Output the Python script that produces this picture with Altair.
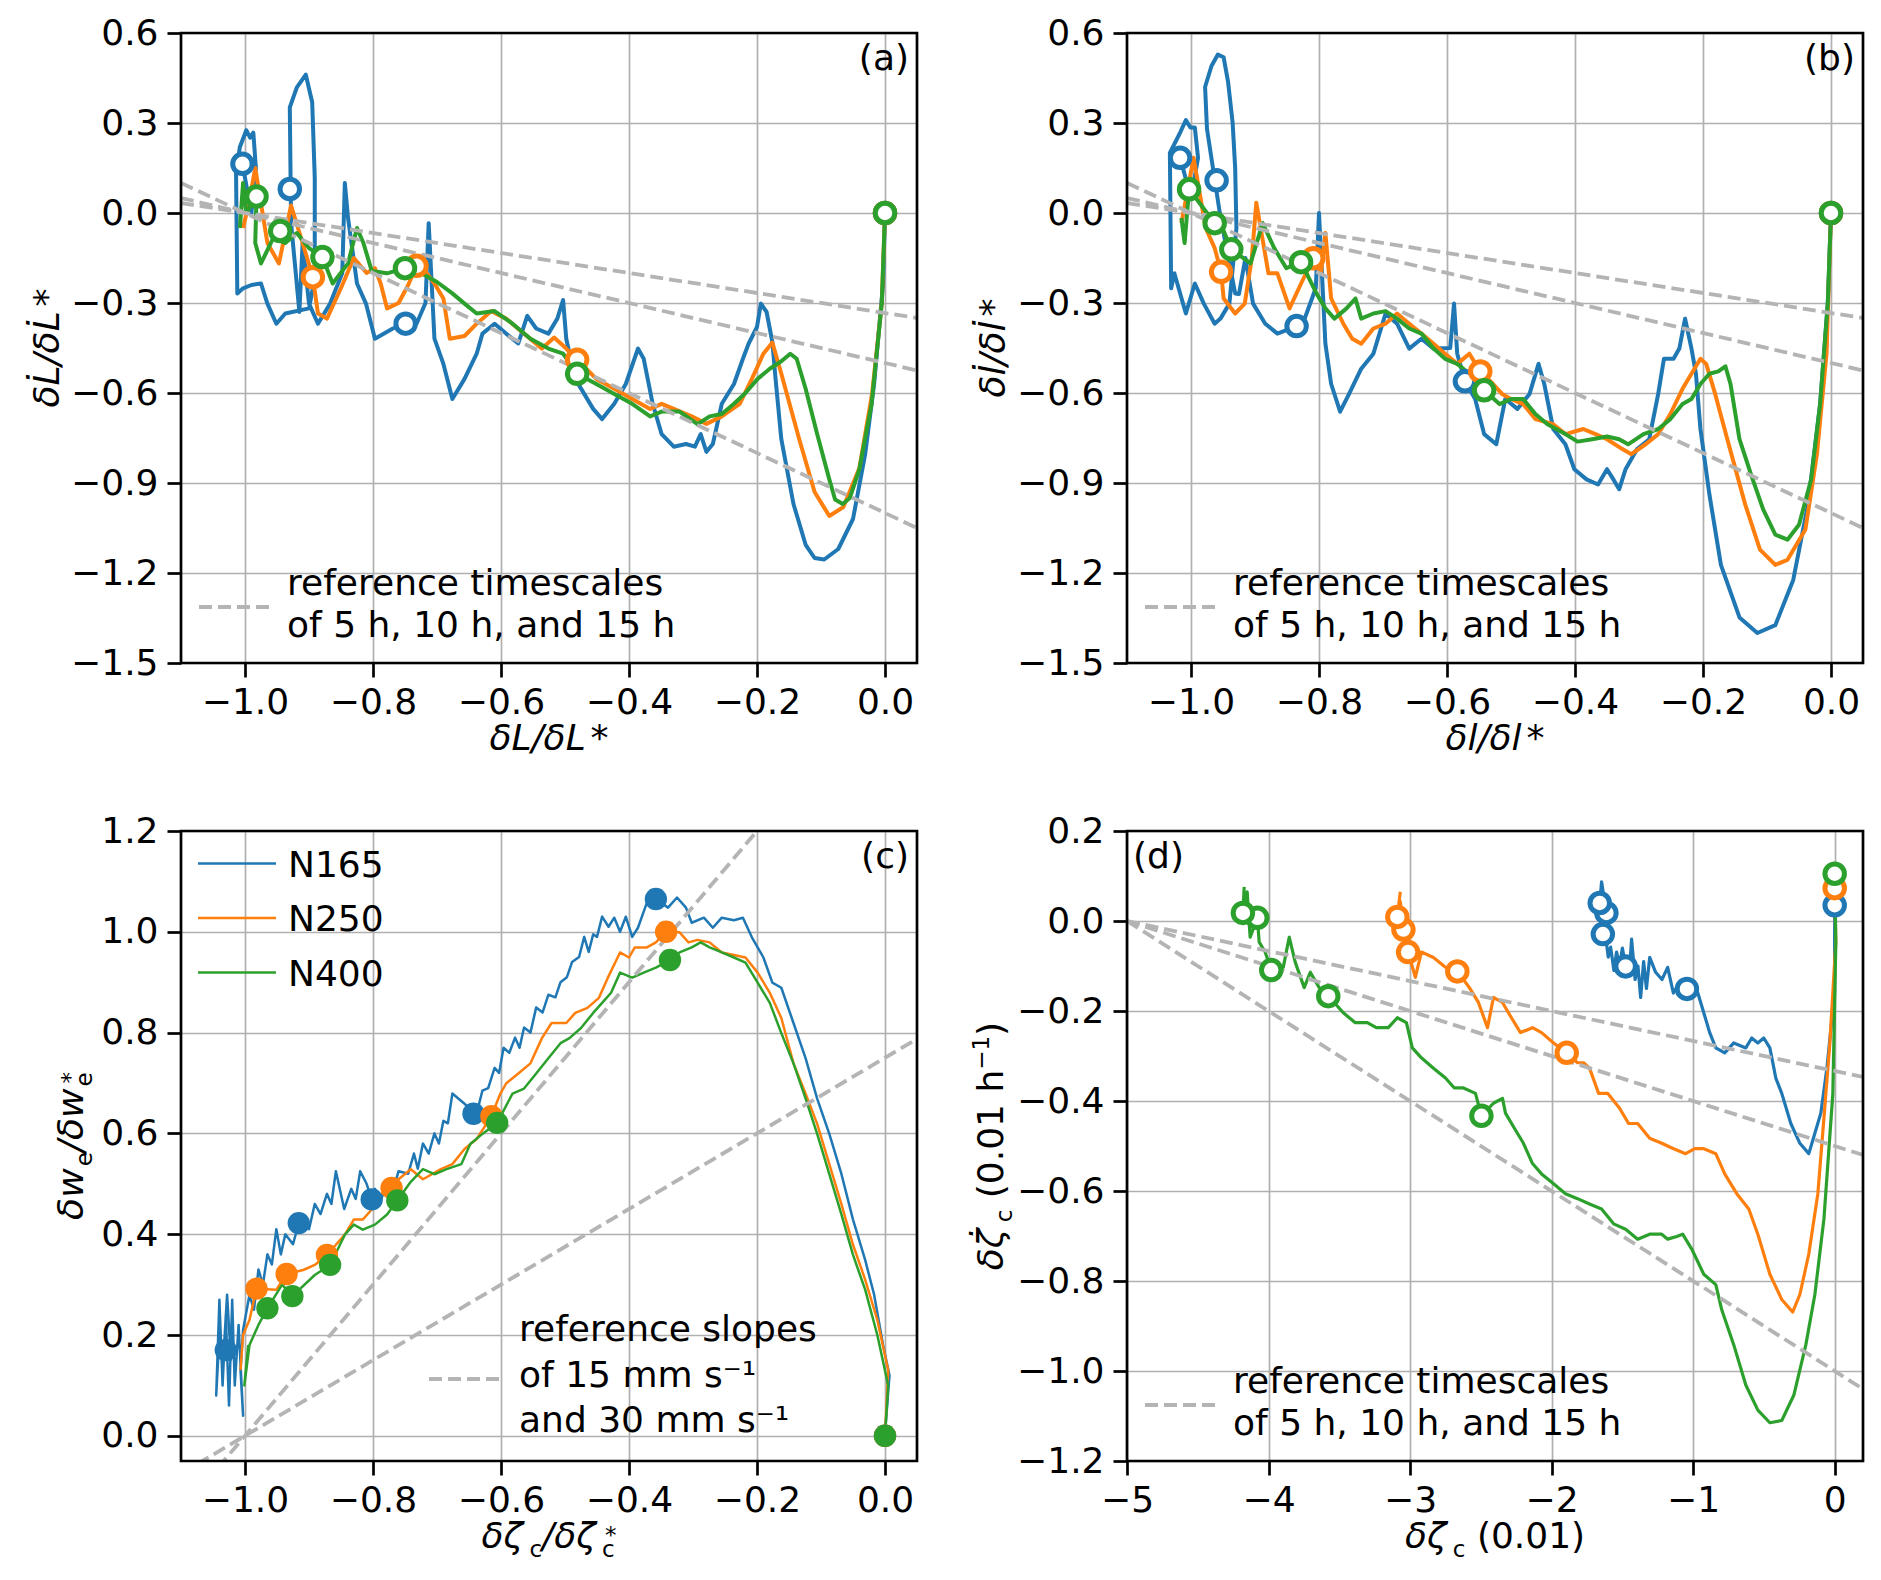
import altair as alt
import pandas as pd

FONT = "DejaVu Sans"
FS = 36
W, H = 736, 630
SERIES = ["N165", "N250", "N400"]
COLORS = ["#1f77b4", "#ff7f0e", "#2ca02c"]
GRAY = "#b4b4b4"

# ---------------- panel (a) ----------------
A_N165_X = [0.0, -0.003, -0.017, -0.031, -0.05, -0.073, -0.095, -0.11, -0.124, -0.143, -0.162, -0.171, -0.176, -0.185, -0.194, -0.2, -0.213, -0.222, -0.236, -0.255, -0.269, -0.279, -0.288, -0.297, -0.311, -0.33, -0.349, -0.363, -0.377, -0.386, -0.405, -0.423, -0.442, -0.456, -0.47, -0.484, -0.498, -0.503, -0.512, -0.526, -0.545, -0.559, -0.573, -0.592, -0.61, -0.629, -0.638, -0.657, -0.676, -0.69, -0.704, -0.713, -0.718, -0.732, -0.749, -0.769, -0.797, -0.811, -0.825, -0.839, -0.844, -0.848, -0.867, -0.886, -0.9, -0.91, -0.915, -0.928, -0.93, -0.919, -0.905, -0.895, -0.891, -0.891, -0.9, -0.937, -0.951, -0.965, -0.975, -0.99, -1.003, -1.012, -1.014, -1.008, -0.998, -0.992, -0.987, -0.983, -0.99, -1.004]
A_N165_Y = [0.0, -0.235, -0.57, -0.804, -1.02, -1.12, -1.155, -1.15, -1.106, -0.97, -0.754, -0.553, -0.43, -0.33, -0.302, -0.38, -0.435, -0.486, -0.57, -0.636, -0.77, -0.796, -0.737, -0.779, -0.77, -0.779, -0.737, -0.636, -0.486, -0.452, -0.57, -0.636, -0.687, -0.653, -0.603, -0.553, -0.42, -0.29, -0.352, -0.402, -0.385, -0.343, -0.435, -0.402, -0.369, -0.402, -0.469, -0.553, -0.62, -0.503, -0.419, -0.034, -0.3, -0.369, -0.369, -0.385, -0.419, -0.302, -0.235, -0.017, 0.1, -0.2, -0.302, -0.369, -0.302, -0.1, -0.33, -0.034, 0.352, 0.419, 0.461, 0.369, 0.117, -0.218, -0.318, -0.335, -0.369, -0.302, -0.235, -0.24, -0.251, -0.268, 0.134, 0.22, 0.276, 0.251, 0.268, 0.15, 0.0, 0.164]
A_N250_X = [0.0, -0.005, -0.02, -0.04, -0.065, -0.087, -0.11, -0.134, -0.162, -0.176, -0.19, -0.208, -0.227, -0.255, -0.279, -0.302, -0.33, -0.349, -0.367, -0.395, -0.423, -0.451, -0.481, -0.498, -0.517, -0.536, -0.564, -0.592, -0.615, -0.638, -0.657, -0.68, -0.69, -0.704, -0.72, -0.732, -0.745, -0.76, -0.778, -0.788, -0.797, -0.81, -0.83, -0.85, -0.872, -0.886, -0.894, -0.91, -0.928, -0.947, -0.965, -0.984, -0.994, -1.003]
A_N250_Y = [0.0, -0.3, -0.6, -0.85, -0.98, -1.01, -0.93, -0.754, -0.536, -0.432, -0.469, -0.553, -0.636, -0.678, -0.703, -0.678, -0.653, -0.636, -0.653, -0.62, -0.586, -0.553, -0.489, -0.452, -0.415, -0.452, -0.402, -0.352, -0.327, -0.369, -0.41, -0.419, -0.285, -0.235, -0.19, -0.176, -0.24, -0.3, -0.318, -0.235, -0.184, -0.2, -0.15, -0.25, -0.352, -0.335, -0.214, -0.1, 0.025, -0.168, -0.1, 0.15, 0.033, -0.05]
A_N400_X = [0.0, -0.005, -0.021, -0.04, -0.055, -0.066, -0.078, -0.087, -0.106, -0.124, -0.138, -0.148, -0.162, -0.18, -0.199, -0.218, -0.236, -0.255, -0.274, -0.293, -0.321, -0.349, -0.367, -0.395, -0.423, -0.451, -0.481, -0.503, -0.526, -0.554, -0.582, -0.61, -0.638, -0.657, -0.676, -0.7, -0.725, -0.75, -0.778, -0.802, -0.815, -0.825, -0.839, -0.863, -0.879, -0.9, -0.919, -0.937, -0.956, -0.975, -0.984, -0.982, -0.998, -1.003, -1.008]
A_N400_Y = [0.0, -0.3, -0.637, -0.854, -0.95, -0.97, -0.955, -0.888, -0.737, -0.586, -0.486, -0.469, -0.494, -0.519, -0.553, -0.6, -0.636, -0.67, -0.678, -0.704, -0.662, -0.662, -0.678, -0.636, -0.603, -0.57, -0.536, -0.469, -0.452, -0.419, -0.369, -0.327, -0.335, -0.302, -0.268, -0.23, -0.2, -0.184, -0.201, -0.193, -0.1, -0.05, -0.168, -0.235, -0.147, -0.117, -0.067, -0.1, -0.084, -0.168, -0.1, 0.055, 0.0, 0.1, -0.05]
A_N165_MX = [0.0, -0.749, -0.93, -1.004]
A_N165_MY = [0.0, -0.369, 0.08, 0.164]
A_N250_MX = [0.0, -0.481, -0.732, -0.894]
A_N250_MY = [0.0, -0.489, -0.176, -0.214]
A_N400_MX = [0.0, -0.481, -0.75, -0.879, -0.945, -0.982]
A_N400_MY = [0.0, -0.536, -0.184, -0.147, -0.06, 0.055]

# ---------------- panel (b) ----------------
B_N165_X = [0.0, -0.005, -0.017, -0.036, -0.059, -0.087, -0.115, -0.143, -0.172, -0.19, -0.204, -0.211, -0.218, -0.228, -0.237, -0.246, -0.261, -0.27, -0.284, -0.303, -0.321, -0.331, -0.34, -0.35, -0.364, -0.382, -0.401, -0.415, -0.434, -0.448, -0.457, -0.471, -0.49, -0.509, -0.523, -0.542, -0.556, -0.572, -0.584, -0.589, -0.595, -0.621, -0.64, -0.659, -0.678, -0.696, -0.715, -0.734, -0.753, -0.767, -0.781, -0.79, -0.8, -0.805, -0.828, -0.835, -0.865, -0.884, -0.903, -0.915, -0.925, -0.931,
            -0.955, -0.975, -0.978, -0.968, -0.958, -0.949, -0.942, -0.935, -0.931, -0.929, -0.94, -0.954, -0.963, -0.98, -0.994, -1.008, -1.026, -1.031, -1.033, -1.017, -1.008, -1.001, -0.994, -0.989, -1.0, -1.017]
B_N165_Y = [0.0, -0.3, -0.637, -0.972, -1.223, -1.374, -1.4, -1.348, -1.173, -0.938, -0.72, -0.536, -0.452, -0.352, -0.452, -0.486, -0.486, -0.603, -0.754, -0.787, -0.854, -0.921, -0.888, -0.854, -0.905, -0.888, -0.854, -0.771, -0.72, -0.57, -0.503, -0.603, -0.653, -0.62, -0.771, -0.737, -0.62, -0.561, -0.469, -0.302, -0.45, -0.452, -0.419, -0.452, -0.369, -0.335, -0.469, -0.519, -0.603, -0.662, -0.57, -0.436, 0.0, -0.25, -0.385, -0.377, -0.402, -0.369, -0.302, -0.15, -0.27, -0.268,
            0.0, 0.28, 0.42, 0.49, 0.528, 0.519, 0.436, 0.302, 0.151, -0.05, -0.302, -0.352, -0.369, -0.302, -0.235, -0.335, -0.201, -0.251, 0.2, 0.268, 0.31, 0.285, 0.285, 0.184, 0.05, 0.184]
B_N250_X = [0.0, -0.007, -0.022, -0.04, -0.068, -0.087, -0.111, -0.134, -0.162, -0.181, -0.195, -0.204, -0.218, -0.232, -0.251, -0.27, -0.289, -0.312, -0.326, -0.35, -0.368, -0.387, -0.415, -0.434, -0.462, -0.481, -0.5, -0.514, -0.528, -0.548, -0.565, -0.584, -0.603, -0.621, -0.64, -0.659, -0.678, -0.696, -0.715, -0.734, -0.748, -0.762, -0.781, -0.79, -0.797, -0.809, -0.828, -0.846, -0.865, -0.879, -0.898, -0.905, -0.916, -0.931, -0.949, -0.953, -0.963, -0.977, -0.996, -1.006, -1.015]
B_N250_Y = [0.0, -0.469, -0.804, -1.055, -1.156, -1.173, -1.122, -0.972, -0.754, -0.603, -0.503, -0.486, -0.536, -0.586, -0.67, -0.737, -0.77, -0.804, -0.787, -0.754, -0.737, -0.72, -0.737, -0.704, -0.687, -0.637, -0.62, -0.603, -0.57, -0.528, -0.469, -0.503, -0.469, -0.436, -0.402, -0.369, -0.335, -0.369, -0.385, -0.436, -0.419, -0.369, -0.285, -0.067, -0.2, -0.151, -0.235, -0.318, -0.201, -0.201, 0.034, -0.15, -0.302, -0.335, -0.285, -0.196, -0.117, -0.05, 0.184, 0.067, -0.034]
B_N400_X = [0.0, -0.005, -0.017, -0.031, -0.05, -0.068, -0.087, -0.106, -0.125, -0.143, -0.157, -0.165, -0.176, -0.19, -0.204, -0.218, -0.232, -0.251, -0.27, -0.293, -0.317, -0.331, -0.35, -0.373, -0.396, -0.415, -0.443, -0.462, -0.481, -0.5, -0.518, -0.542, -0.565, -0.584, -0.603, -0.621, -0.64, -0.659, -0.678, -0.696, -0.715, -0.734, -0.743, -0.757, -0.776, -0.79, -0.804, -0.828, -0.851, -0.87, -0.888, -0.907, -0.937, -0.954, -0.963, -0.987, -1.003, -1.01, -1.015]
B_N400_Y = [0.0, -0.3, -0.637, -0.888, -1.039, -1.089, -1.072, -0.988, -0.871, -0.754, -0.57, -0.511, -0.528, -0.536, -0.57, -0.62, -0.637, -0.687, -0.72, -0.737, -0.771, -0.754, -0.745, -0.754, -0.762, -0.737, -0.704, -0.67, -0.62, -0.62, -0.637, -0.591, -0.536, -0.503, -0.486, -0.452, -0.402, -0.385, -0.352, -0.327, -0.335, -0.352, -0.285, -0.318, -0.352, -0.318, -0.268, -0.164, -0.184, -0.117, -0.034, -0.168, -0.121, -0.034, -0.034, 0.034, 0.079, -0.1, -0.017]
B_N165_MX = [0.0, -0.572, -0.835, -0.96, -1.017]
B_N165_MY = [0.0, -0.561, -0.377, 0.109, 0.184]
B_N250_MX = [0.0, -0.548, -0.809, -0.953]
B_N250_MY = [0.0, -0.528, -0.151, -0.196]
B_N400_MX = [0.0, -0.542, -0.828, -0.937, -0.963, -1.003]
B_N400_MY = [0.0, -0.591, -0.164, -0.121, -0.034, 0.079]

# ---------------- panel (c) ----------------
C_N165_X = [0.0, 0.007, -0.003, -0.017, -0.031, -0.05, -0.068, -0.087, -0.106, -0.124, -0.143, -0.162, -0.176, -0.19, -0.208, -0.222, -0.236, -0.255, -0.269, -0.283, -0.302, -0.311, -0.325, -0.339, -0.358, -0.372,
            -0.386, -0.395, -0.405, -0.414, -0.423, -0.432, -0.442, -0.45, -0.456, -0.463, -0.47, -0.478, -0.489, -0.497, -0.507, -0.515, -0.526, -0.535, -0.545, -0.554, -0.564, -0.571, -0.578, -0.587, -0.596, -0.603, -0.61, -0.62, -0.629, -0.636, -0.643, -0.657, -0.676, -0.683, -0.69, -0.697, -0.704, -0.713, -0.722, -0.73, -0.736, -0.745, -0.76, -0.768, -0.778, -0.787, -0.797, -0.802, -0.81, -0.82, -0.827, -0.834, -0.845, -0.858, -0.865, -0.872, -0.882, -0.891, -0.9, -0.909, -0.916, -0.925, -0.937, -0.944, -0.951, -0.958, -0.965, -0.972, -0.979, -0.986, -0.993, -1.003,
            -1.007, -1.003, -1.01, -1.016, -1.02, -1.025, -1.03, -1.035, -1.04, -1.045, -1.04, -1.035, -1.028, -1.022, -1.03]
C_N165_Y = [0.005, 0.12, 0.18, 0.28, 0.349, 0.429, 0.519, 0.599, 0.669, 0.749, 0.819, 0.889, 0.899, 0.949, 0.989, 1.028, 1.023, 1.028, 1.008, 1.028, 1.018, 1.048, 1.068, 1.048, 1.065, 1.058,
            1.008, 0.99, 1.03, 1.0, 1.028, 1.01, 1.03, 0.99, 0.995, 0.96, 0.99, 0.95, 0.94, 0.91, 0.9, 0.87, 0.875, 0.84, 0.85, 0.8, 0.81, 0.77, 0.79, 0.76, 0.77, 0.72, 0.73, 0.69, 0.685, 0.65, 0.639, 0.659, 0.679, 0.62, 0.625, 0.58, 0.6, 0.56, 0.58, 0.53, 0.56, 0.52, 0.525, 0.49, 0.5, 0.47, 0.49, 0.469, 0.5, 0.525, 0.47, 0.49, 0.45, 0.525, 0.46, 0.48, 0.44, 0.46, 0.41, 0.43, 0.422, 0.38, 0.4, 0.36, 0.41, 0.34, 0.36, 0.3, 0.33, 0.25, 0.28, 0.21,
            0.13, 0.04, 0.22, 0.1, 0.27, 0.06, 0.24, 0.1, 0.27, 0.08, 0.2, 0.13, 0.28, 0.15, 0.2]
C_N250_X = [0.0, 0.005, -0.012, -0.031, -0.05, -0.068, -0.087, -0.106, -0.124, -0.143, -0.162, -0.18, -0.199, -0.218, -0.236, -0.255, -0.274, -0.293, -0.307, -0.321, -0.342, -0.358, -0.372, -0.391, -0.4, -0.414, -0.433, -0.447, -0.465, -0.484, -0.498, -0.521, -0.536, -0.554, -0.573, -0.592, -0.601, -0.615, -0.638, -0.657, -0.676, -0.694, -0.722, -0.741, -0.76, -0.771, -0.788, -0.802, -0.816, -0.83, -0.844, -0.858, -0.872, -0.891, -0.909, -0.935, -0.951, -0.982, -0.993, -1.003, -1.007]
C_N250_Y = [0.0, 0.13, 0.23, 0.31, 0.379, 0.459, 0.539, 0.619, 0.679, 0.739, 0.829, 0.879, 0.919, 0.949, 0.954, 0.959, 0.979, 0.984, 0.979, 0.999, 1.0, 0.979, 0.969, 0.969, 0.949, 0.959, 0.909, 0.869, 0.849, 0.839, 0.819, 0.819, 0.789, 0.739, 0.719, 0.699, 0.679, 0.634, 0.589, 0.569, 0.539, 0.529, 0.509, 0.529, 0.509, 0.492, 0.479, 0.449, 0.429, 0.429, 0.399, 0.379, 0.359, 0.339, 0.329, 0.321, 0.29, 0.292, 0.23, 0.2, 0.13]
C_N400_X = [0.0, 0.005, -0.012, -0.031, -0.05, -0.068, -0.087, -0.106, -0.124, -0.143, -0.162, -0.18, -0.199, -0.218, -0.236, -0.255, -0.274, -0.288, -0.302, -0.321, -0.336, -0.358, -0.377, -0.395, -0.414, -0.428, -0.442, -0.456, -0.475, -0.493, -0.507, -0.526, -0.545, -0.564, -0.582, -0.606, -0.629, -0.648, -0.662, -0.685, -0.704, -0.722, -0.741, -0.762, -0.778, -0.797, -0.816, -0.83, -0.844, -0.867, -0.891, -0.926, -0.942, -0.965, -0.979, -0.993, -1.001, -0.995]
C_N400_Y = [0.0, 0.1, 0.2, 0.29, 0.359, 0.439, 0.519, 0.599, 0.669, 0.739, 0.799, 0.859, 0.899, 0.939, 0.949, 0.959, 0.969, 0.979, 0.969, 0.959, 0.944, 0.929, 0.919, 0.909, 0.919, 0.879, 0.859, 0.839, 0.809, 0.789, 0.779, 0.749, 0.719, 0.689, 0.679, 0.621, 0.599, 0.579, 0.539, 0.529, 0.519, 0.529, 0.504, 0.467, 0.439, 0.419, 0.409, 0.419, 0.399, 0.339, 0.319, 0.277, 0.3, 0.253, 0.22, 0.18, 0.1, 0.18]
C_N165_MX = [0.0, -0.358, -0.643, -0.802, -0.916, -1.03]
C_N165_MY = [0.0, 1.065, 0.639, 0.469, 0.422, 0.17]
C_N250_MX = [0.0, -0.342, -0.615, -0.771, -0.872, -0.935, -0.982]
C_N250_MY = [0.0, 1.0, 0.634, 0.492, 0.359, 0.321, 0.292]
C_N400_MX = [0.0, -0.336, -0.606, -0.762, -0.867, -0.926, -0.965]
C_N400_MY = [0.0, 0.944, 0.621, 0.467, 0.339, 0.277, 0.253]

# ---------------- panel (d) ----------------
D_N165_X = [0.0, -0.001, -0.055, -0.098, -0.161, -0.183, -0.246, -0.31, -0.374, -0.416, -0.458, -0.501, -0.543, -0.586, -0.628, -0.713, -0.777, -0.84, -0.883, -0.925, -0.968, -1.044, -1.095, -1.14, -1.18, -1.22, -1.265, -1.307, -1.33, -1.35, -1.371, -1.39, -1.41, -1.435, -1.45, -1.477, -1.5, -1.52, -1.541, -1.56, -1.583, -1.6, -1.62, -1.638, -1.604, -1.66, -1.647, -1.613]
D_N165_Y = [0.035, -0.159, -0.327, -0.427, -0.494, -0.517, -0.494, -0.45, -0.383, -0.349, -0.282, -0.26, -0.271, -0.26, -0.282, -0.271, -0.293, -0.282, -0.248, -0.204, -0.159, -0.151, -0.136, -0.16, -0.103, -0.13, -0.114, -0.081, -0.15, -0.09, -0.17, -0.1, -0.13, -0.04, -0.11, -0.101, -0.06, -0.1, -0.069, -0.11, -0.058, -0.08, -0.03, -0.029, 0.02, 0.04, 0.087, 0.018]
D_N250_X = [0.0, 0.008, -0.034, -0.076, -0.119, -0.183, -0.246, -0.297, -0.374, -0.458, -0.543, -0.607, -0.692, -0.777, -0.84, -0.925, -0.989, -1.053, -1.138, -1.222, -1.307, -1.392, -1.456, -1.52, -1.604, -1.668, -1.732, -1.774, -1.817, -1.893, -1.986, -2.071, -2.135, -2.22, -2.284, -2.347, -2.411, -2.453, -2.517, -2.581, -2.666, -2.75, -2.835, -2.92, -2.963, -3.014, -3.047, -3.047, -3.069, -3.09, -3.069]
D_N250_Y = [0.073, -0.047, -0.271, -0.438, -0.606, -0.74, -0.83, -0.869, -0.841, -0.785, -0.696, -0.64, -0.606, -0.562, -0.517, -0.506, -0.506, -0.517, -0.506, -0.494, -0.483, -0.45, -0.45, -0.416, -0.383, -0.383, -0.327, -0.315, -0.315, -0.293, -0.271, -0.248, -0.237, -0.248, -0.215, -0.181, -0.17, -0.237, -0.181, -0.148, -0.112, -0.103, -0.081, -0.069, -0.125, -0.069, -0.036, -0.019, 0.043, 0.009, 0.065]
D_N400_X = [0.0, 0.008, -0.013, -0.076, -0.14, -0.204, -0.289, -0.374, -0.458, -0.543, -0.628, -0.713, -0.798, -0.84, -0.925, -1.01, -1.074, -1.116, -1.18, -1.222, -1.307, -1.392, -1.477, -1.562, -1.647, -1.732, -1.817, -1.902, -1.986, -2.071, -2.135, -2.199, -2.262, -2.326, -2.347, -2.411, -2.496, -2.538, -2.623, -2.687, -2.75, -2.835, -2.92, -2.984, -3.026, -3.09, -3.154, -3.239, -3.302, -3.387, -3.472, -3.536, -3.578, -3.642, -3.705, -3.748, -3.811, -3.854, -3.896, -3.981, -4.024, -4.066, -4.079, -4.13, -4.151, -4.181, -4.172]
D_N400_Y = [0.105, -0.047, -0.383, -0.662, -0.83, -0.942, -1.054, -1.11, -1.115, -1.087, -1.031, -0.942, -0.864, -0.808, -0.785, -0.729, -0.696, -0.701, -0.707, -0.696, -0.696, -0.707, -0.685, -0.673, -0.64, -0.629, -0.617, -0.606, -0.584, -0.562, -0.539, -0.494, -0.461, -0.427, -0.394, -0.405, -0.433, -0.383, -0.371, -0.371, -0.349, -0.327, -0.304, -0.282, -0.226, -0.215, -0.237, -0.237, -0.226, -0.226, -0.204, -0.181, -0.167, -0.148, -0.114, -0.148, -0.092, -0.036, -0.103, -0.109, -0.069, -0.047, 0.007, -0.036, 0.065, 0.018, 0.076]
D_N165_MX = [0.0, -1.044, -1.477, -1.638, -1.613, -1.66]
D_N165_MY = [0.035, -0.151, -0.101, -0.029, 0.018, 0.04]
D_N250_MX = [0.0, -1.893, -2.666, -3.014, -3.047, -3.09]
D_N250_MY = [0.073, -0.293, -0.112, -0.069, -0.019, 0.009]
D_N400_MX = [0.0, -2.496, -3.578, -3.981, -4.079, -4.181]
D_N400_MY = [0.105, -0.433, -0.167, -0.109, 0.007, 0.018]

# ---------------- reference lines ----------------
REF_AB_PIVOT = -1.0
REF_AB_SLOPES = [-1.0 / 3.0, -0.5, -1.0]
REF_AB_XEDGES = [-1.1, 0.05]
REF_C_PIVOT = -1.0
REF_C_SLOPES = [1.5, 0.75]
REF_C_XEDGES = [-1.1, 0.05]
REF_D_PIVOT = -5.0
REF_D_TAUS = [5.0, 10.0, 15.0]
REF_D_XEDGES = [-5.0, 0.2]

# ---------------- axes ----------------
X_DOM_ABC = [-1.1, 0.05]
X_TICKS_ABC = [-1.0, -0.8, -0.6, -0.4, -0.2, 0.0]
Y_DOM_AB = [-1.5, 0.6]
Y_TICKS_AB = [-1.5, -1.2, -0.9, -0.6, -0.3, 0.0, 0.3, 0.6]
Y_DOM_C = [-0.05, 1.2]
Y_TICKS_C = [0.0, 0.2, 0.4, 0.6, 0.8, 1.0, 1.2]
X_DOM_D = [-5.0, 0.2]
X_TICKS_D = [-5, -4, -3, -2, -1, 0]
Y_DOM_D = [-1.2, 0.2]
Y_TICKS_D = [-1.2, -1.0, -0.8, -0.6, -0.4, -0.2, 0.0, 0.2]

# ---------------- titles (text, role, italic) ----------------
A_XTITLE = [("δL/δL", "n", True), ("*", "n", False)]
A_YTITLE = [("δL\u0307/δL\u0307", "n", True), ("*", "n", False)]
B_XTITLE = [("δl/δl", "n", True), ("*", "n", False)]
B_YTITLE = [("δl\u0307/δl\u0307", "n", True), ("*", "n", False)]
C_XTITLE = [("δζ", "n", True), ("c", "sub", False), ("/δζ", "n", True), ("c", "sub0", False), ("*", "sup", False)]
C_YTITLE = [("δw", "n", True), ("e", "sub", False), ("/δw", "n", True), ("e", "sub0", False), ("*", "sup", False)]
D_XTITLE = [("δζ", "n", True), ("c", "sub", False), (" (0.01)", "n", False)]
D_YTITLE = [("δζ\u0307", "n", True), ("c", "sub", False), (" (0.01 h", "n", False), ("\u22121", "sup", False), (")", "n", False)]

REF_TEXT_T = ["reference timescales", "of 5 h, 10 h, and 15 h"]
REF_TEXT_C = ["reference slopes", "of 15 mm s\u207b\u00b9", "and 30 mm s\u207b\u00b9"]
PANEL_LABELS = ["(a)", "(b)", "(c)", "(d)"]

CHAR_EM = {"δ": 0.63, "ζ": 0.66, "L": 0.557, "l": 0.278, "w": 0.818, "e": 0.615,
           "c": 0.55, "/": 0.337, "*": 0.5, " ": 0.318, "(": 0.39, ")": 0.39,
           ".": 0.318, "0": 0.636, "1": 0.636, "h": 0.634, "\u2212": 0.838, "\u0307": 0.0}

ONE = pd.DataFrame({"k": [0]})
CSCALE = alt.Scale(domain=SERIES, range=COLORS)


def series_df(xs_list, ys_list):
    rows = []
    for name, xs, ys in zip(SERIES, xs_list, ys_list):
        n = min(len(xs), len(ys))
        for i in range(n):
            rows.append({"series": name, "t": i, "x": xs[i], "y": ys[i]})
    return pd.DataFrame(rows)


def ref_df_slopes(pivot, slopes, edges):
    rows = []
    for k, s in enumerate(slopes):
        for t, xe in enumerate(edges):
            rows.append({"k": k, "t": t, "x": xe, "y": s * (xe - pivot)})
    return pd.DataFrame(rows)


def txt(text, x, y, size=FS, align="left", baseline="alphabetic", italic=False, angle=0, dx=0, dy=0):
    kw = dict(text=text, font=FONT, fontSize=size, align=align, baseline=baseline, color="black")
    if italic:
        kw["fontStyle"] = "italic"
    if angle:
        kw["angle"] = angle
    if dx:
        kw["dx"] = dx
    if dy:
        kw["dy"] = dy
    return alt.Chart(ONE).mark_text(**kw).encode(x=alt.value(x), y=alt.value(y))


def comp_title(pieces, x, y, angle=0):
    pos = 0.0
    items = []
    prev_italic = False
    prev_role = None
    for text, role, italic in pieces:
        size = FS if role == "n" else round(FS * 0.65)
        stripped = text.lstrip(" ")
        pos += (len(text) - len(stripped)) * CHAR_EM[" "] * size
        text = stripped
        if role == "n" and prev_italic and not italic and text == "*":
            pos += 0.1 * FS
        if role in ("sub", "sub0") and prev_italic:
            pos += 0.04 * FS
        if role == "sup" and prev_role == "sub0":
            pos += 0.08 * FS
        if role == "n":
            dy = 0
        elif role in ("sub", "sub0"):
            dy = 9
        else:
            dy = -5 if text == "*" else -14
        items.append((text, pos, size, dy, italic))
        if role != "sub0":
            pos += sum(CHAR_EM.get(ch, 0.6) for ch in text) * size
        prev_italic = italic
        prev_role = role
    total = pos
    return [txt(t, x, y, size=s, italic=it, angle=angle, dx=round(p - total / 2, 1), dy=d)
            for (t, p, s, d, it) in items]


def hrule(x1, x2, y, color, width, dash=None):
    kw = dict(color=color, strokeWidth=width)
    if dash:
        kw["strokeDash"] = dash
    return alt.Chart(ONE).mark_rule(**kw).encode(x=alt.value(x1), x2=alt.value(x2), y=alt.value(y))


def panel(lines_df, marks_df, ref_df, xdom, ydom, xticks, yticks, xfmt, yfmt, lw, filled, extra):
    X = alt.X("x:Q", scale=alt.Scale(domain=xdom, nice=False, zero=False),
              axis=alt.Axis(values=xticks, format=xfmt, title=None, grid=True))
    Y = alt.Y("y:Q", scale=alt.Scale(domain=ydom, nice=False, zero=False),
              axis=alt.Axis(values=yticks, format=yfmt, title=None, grid=True))
    col = alt.Color("series:N", scale=CSCALE, legend=None)
    lines = alt.Chart(lines_df).mark_line(strokeWidth=lw, clip=True, strokeJoin="round").encode(
        x=X, y=Y, color=col, detail="series:N", order="t:Q")
    refs = alt.Chart(ref_df).mark_line(strokeWidth=3.8, strokeDash=[13, 6], color=GRAY, clip=True).encode(
        x=X, y=Y, detail="k:N", order="t:Q")
    if filled:
        pts = alt.Chart(marks_df).mark_circle(size=500, opacity=1).encode(x=X, y=Y, color=col)
    else:
        pts = alt.Chart(marks_df).mark_point(shape="circle", filled=False, fill="white", fillOpacity=1,
                                             size=380, strokeWidth=5, opacity=1).encode(x=X, y=Y, color=col)
    border = alt.Chart(ONE).mark_rect(filled=False, stroke="black", strokeWidth=2.7).encode(
        x=alt.value(0), x2=alt.value(W), y=alt.value(0), y2=alt.value(H))
    return alt.layer(lines, refs, pts, border, *extra).properties(width=W, height=H)


def timescale_legend():
    return [hrule(18, 93, 574, GRAY, 3.8, [13, 6]),
            txt(REF_TEXT_T[0], 106, 562),
            txt(REF_TEXT_T[1], 106, 604)]


XT_BASE = H + 87

# ---- panel (a)
extra_a = [txt(PANEL_LABELS[0], W - 8, 37, align="right")] + timescale_legend() \
    + comp_title(A_XTITLE, W / 2, XT_BASE) + comp_title(A_YTITLE, -122, H / 2, angle=270) \
    + [alt.Chart(ONE).mark_rule(opacity=0, strokeWidth=0).encode(
        x=alt.value(-172), x2=alt.value(-171), y=alt.value(-24))]
pa = panel(series_df([A_N165_X, A_N250_X, A_N400_X], [A_N165_Y, A_N250_Y, A_N400_Y]),
           series_df([A_N165_MX, A_N250_MX, A_N400_MX], [A_N165_MY, A_N250_MY, A_N400_MY]),
           ref_df_slopes(REF_AB_PIVOT, REF_AB_SLOPES, REF_AB_XEDGES),
           X_DOM_ABC, Y_DOM_AB, X_TICKS_ABC, Y_TICKS_AB, ".1f", ".1f", 4.0, False, extra_a)

# ---- panel (b)
extra_b = [txt(PANEL_LABELS[1], W - 8, 37, align="right")] + timescale_legend() \
    + comp_title(B_XTITLE, W / 2, XT_BASE) + comp_title(B_YTITLE, -122, H / 2, angle=270)
pb = panel(series_df([B_N165_X, B_N250_X, B_N400_X], [B_N165_Y, B_N250_Y, B_N400_Y]),
           series_df([B_N165_MX, B_N250_MX, B_N400_MX], [B_N165_MY, B_N250_MY, B_N400_MY]),
           ref_df_slopes(REF_AB_PIVOT, REF_AB_SLOPES, REF_AB_XEDGES),
           X_DOM_ABC, Y_DOM_AB, X_TICKS_ABC, Y_TICKS_AB, ".1f", ".1f", 4.0, False, extra_b)

# ---- panel (c)
legend_c = []
for i, name in enumerate(SERIES):
    yy = 32.6 + 54.5 * i
    legend_c.append(hrule(17, 95, yy, COLORS[i], 2.5))
    legend_c.append(txt(name, 107, yy + 13))
extra_c = [txt(PANEL_LABELS[2], W - 8, 37, align="right")] + legend_c \
    + [hrule(248, 323, 548, GRAY, 3.8, [13, 6]),
       txt(REF_TEXT_C[0], 338, 510), txt(REF_TEXT_C[1], 338, 556), txt(REF_TEXT_C[2], 338, 601)] \
    + comp_title(C_XTITLE, W / 2, XT_BASE) + comp_title(C_YTITLE, -98, H / 2, angle=270)
pc = panel(series_df([C_N165_X, C_N250_X, C_N400_X], [C_N165_Y, C_N250_Y, C_N400_Y]),
           series_df([C_N165_MX, C_N250_MX, C_N400_MX], [C_N165_MY, C_N250_MY, C_N400_MY]),
           ref_df_slopes(REF_C_PIVOT, REF_C_SLOPES, REF_C_XEDGES),
           X_DOM_ABC, Y_DOM_C, X_TICKS_ABC, Y_TICKS_C, ".1f", ".1f", 2.5, True, extra_c)

# ---- panel (d)
ref_d = ref_df_slopes(REF_D_PIVOT, [-1.0 / t for t in REF_D_TAUS], REF_D_XEDGES)
extra_d = [txt(PANEL_LABELS[3], 6, 37, align="left")] + timescale_legend() \
    + comp_title(D_XTITLE, W / 2, XT_BASE) + comp_title(D_YTITLE, -124, H / 2, angle=270)
pd_ = panel(series_df([D_N165_X, D_N250_X, D_N400_X], [D_N165_Y, D_N250_Y, D_N400_Y]),
            series_df([D_N165_MX, D_N250_MX, D_N400_MX], [D_N165_MY, D_N250_MY, D_N400_MY]),
            ref_d, X_DOM_D, Y_DOM_D, X_TICKS_D, Y_TICKS_D, "d", ".1f", 3.2, False, extra_d)

chart = alt.concat(pa, pb, pc, pd_, columns=2, spacing={"row": 168, "column": 210}, bounds="flush") \
    .properties(padding={"left": 0, "top": 0, "right": 4, "bottom": 4}) \
    .configure_view(stroke="transparent") \
    .configure_axis(labelFont=FONT, labelFontSize=FS, labelColor="black", tickColor="black",
                    tickSize=14, tickWidth=2.7, gridColor="#b0b0b0", gridWidth=1.7, domain=False,
                    labelFlush=False, labelOverlap=False) \
    .configure_axisX(labelPadding=8) \
    .configure_axisY(labelPadding=9)

chart.save("out.html", embed_options={"renderer": "svg", "actions": False})
